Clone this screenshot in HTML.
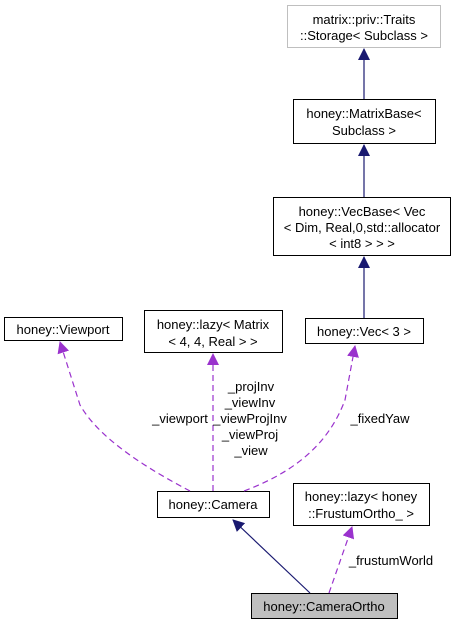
<!DOCTYPE html>
<html><head><meta charset="utf-8"><style>html,body{margin:0;padding:0;background:#fff}svg{display:block}</style></head>
<body>
<svg width="461" height="627" viewBox="0 0 461 627" xmlns="http://www.w3.org/2000/svg" font-family="Liberation Sans, sans-serif" font-size="13">
<defs>
<marker id="nb" markerWidth="12" markerHeight="12" refX="11" refY="6" orient="auto" markerUnits="userSpaceOnUse"><path d="M0,0 L12,6 L0,12 z" fill="#191970"/></marker>
<marker id="pu" markerWidth="12" markerHeight="12" refX="11" refY="6" orient="auto" markerUnits="userSpaceOnUse"><path d="M0,0 L12,6 L0,12 z" fill="#9a32cd"/></marker>
</defs>
<g fill="#fff" stroke="#000" stroke-width="1">
<rect x="287.5" y="5.5" width="153" height="42" stroke="#bfbfbf"/>
<rect x="293.5" y="99.5" width="142" height="44"/>
<rect x="273.5" y="197.5" width="177" height="58"/>
<rect x="4.5" y="317.5" width="118" height="23"/>
<rect x="144.5" y="310.5" width="138" height="42"/>
<rect x="305.5" y="318.5" width="118" height="25"/>
<rect x="157.5" y="491.5" width="112" height="26"/>
<rect x="293.5" y="483.5" width="136" height="42"/>
<rect x="251.5" y="593.5" width="146" height="25" fill="#bfbfbf"/>
</g>
<g stroke="#191970" stroke-width="1.2" fill="none">
<line x1="364" y1="99" x2="364" y2="49" marker-end="url(#nb)"/>
<line x1="364" y1="197" x2="364" y2="145" marker-end="url(#nb)"/>
<line x1="364" y1="318" x2="364" y2="257" marker-end="url(#nb)"/>
<line x1="310" y1="593" x2="233" y2="520" marker-end="url(#nb)"/>
</g>
<g stroke="#9a32cd" stroke-width="1.2" fill="none" stroke-dasharray="6,4">
<path d="M190,491 C150,470 100,440 80,405 L60,342" marker-end="url(#pu)"/>
<line x1="213" y1="491" x2="213" y2="354" marker-end="url(#pu)"/>
<path d="M244,491 C300,470 330,440 345,400 L355,346" marker-end="url(#pu)"/>
<line x1="329" y1="593" x2="352" y2="527" marker-end="url(#pu)"/>
</g>
<g fill="#000" text-anchor="middle">
<text x="364" y="24">matrix::priv::Traits</text>
<text x="364" y="40">::Storage&lt; Subclass &gt;</text>
<text x="364" y="118">honey::MatrixBase&lt;</text>
<text x="364" y="135">Subclass &gt;</text>
<text x="362" y="216">honey::VecBase&lt; Vec</text>
<text x="362" y="232">&lt; Dim, Real,0,std::allocator</text>
<text x="362" y="248">&lt; int8 &gt; &gt; &gt;</text>
<text x="63" y="334">honey::Viewport</text>
<text x="213" y="329">honey::lazy&lt; Matrix</text>
<text x="213" y="346">&lt; 4, 4, Real &gt; &gt;</text>
<text x="364" y="336">honey::Vec&lt; 3 &gt;</text>
<text x="213" y="509">honey::Camera</text>
<text x="361" y="501">honey::lazy&lt; honey</text>
<text x="361" y="518">::FrustumOrtho_ &gt;</text>
<text x="324" y="611">honey::CameraOrtho</text>
<text x="251" y="391">_projInv</text>
<text x="250" y="407">_viewInv</text>
<text x="250" y="423">_viewProjInv</text>
<text x="250" y="439">_viewProj</text>
<text x="251" y="455">_view</text>
<text x="180" y="423">_viewport</text>
<text x="380" y="423">_fixedYaw</text>
<text x="391" y="565">_frustumWorld</text>
</g>
</svg>
</body></html>
